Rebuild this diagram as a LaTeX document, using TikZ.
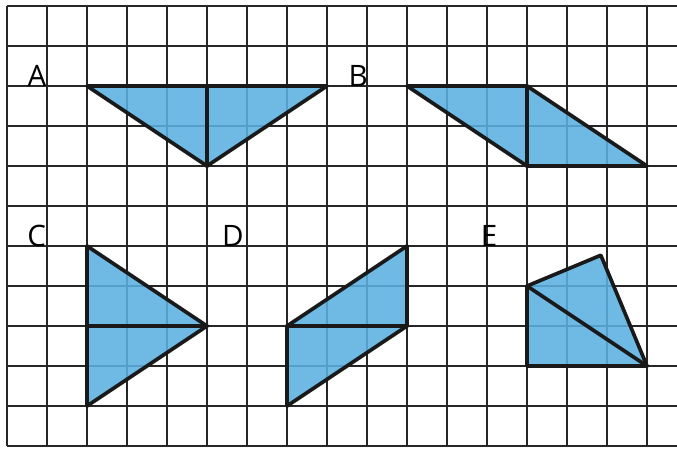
\documentclass[tikz,border=0pt]{standalone}
\usepackage{fontspec}
\setsansfont{Open Sans}
\usetikzlibrary{calc}
\definecolor{shapeblue}{RGB}{90,176,224}
\tikzset{
  gridline/.style={draw=black!85, line width=1.3pt},
  shapefill/.style={fill=shapeblue, fill opacity=0.88, draw=none},
  edge/.style={draw=black!90, line width=2.6pt, line join=round, line cap=round},
  lbl/.style={font=\sffamily\fontsize{21}{21}\selectfont, inner sep=0pt, anchor=base}
}
\begin{document}
\begin{tikzpicture}[x=1cm,y=-1cm]
\useasboundingbox (-0.175,-0.15) rectangle (16.75,11.1);
% grid
\foreach \i in {0,...,16} \draw[gridline] (\i,0) -- (\i,11);
\foreach \j in {0,...,11} \draw[gridline] (0,\j) -- (16.75,\j);
% A
\coordinate (a1) at (2,2); \coordinate (a2) at (8,2); \coordinate (a3) at (5,4); \coordinate (a4) at (5,2);
\fill[shapefill] (a1) -- (a2) -- (a3) -- cycle;
\draw[edge] (a1) -- (a2) -- (a3) -- cycle;
\draw[edge] (a4) -- (a3);
% B
\coordinate (b1) at (10,2); \coordinate (b2) at (13,2); \coordinate (b3) at (16,4); \coordinate (b4) at (13,4);
\fill[shapefill] (b1) -- (b2) -- (b3) -- (b4) -- cycle;
\draw[edge] (b1) -- (b2) -- (b3) -- (b4) -- cycle;
\draw[edge] (b2) -- (b4);
% C
\coordinate (c1) at (2,6); \coordinate (c2) at (5,8); \coordinate (c3) at (2,10); \coordinate (c4) at (2,8);
\fill[shapefill] (c1) -- (c2) -- (c3) -- cycle;
\draw[edge] (c1) -- (c2) -- (c3) -- cycle;
\draw[edge] (c4) -- (c2);
% D
\coordinate (d1) at (7,8); \coordinate (d2) at (10,6); \coordinate (d3) at (10,8); \coordinate (d4) at (7,10);
\fill[shapefill] (d1) -- (d2) -- (d3) -- (d4) -- cycle;
\draw[edge] (d1) -- (d2) -- (d3) -- (d4) -- cycle;
\draw[edge] (d1) -- (d3);
% E
\coordinate (e1) at (13,7); \coordinate (e2) at (14.846,6.231); \coordinate (e3) at (16,9); \coordinate (e4) at (13,9);
\fill[shapefill] (e1) -- (e2) -- (e3) -- (e4) -- cycle;
\draw[edge] (e1) -- (e2) -- (e3) -- (e4) -- cycle;
\draw[edge] (e1) -- (e3);
% labels
\node[lbl] (la) at (0.75,2) {A};
\node[lbl] (lb) at (8.78,2) {B};
\node[lbl] (lc) at (0.74,6) {C};
\node[lbl] (ld) at (5.65,6) {D};
\node[lbl] (le) at (12.05,6) {E};
\end{tikzpicture}
\end{document}
